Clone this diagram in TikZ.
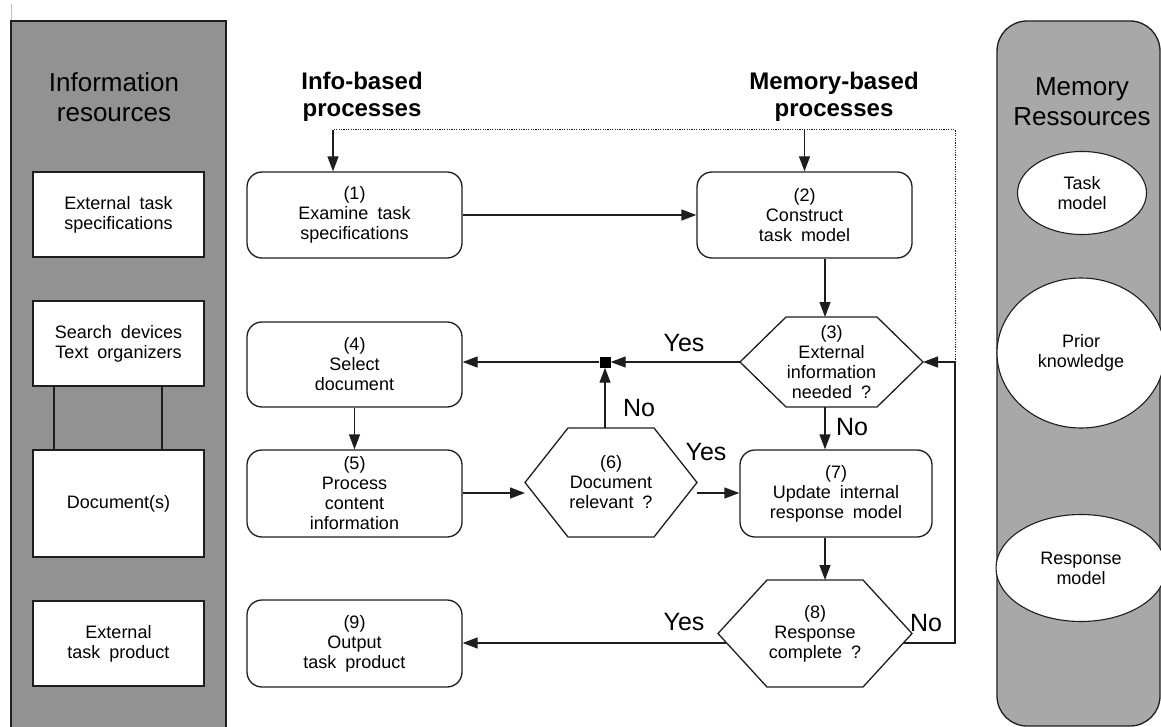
\documentclass[tikz,border=0pt]{standalone}
\usepackage{fontspec}
\setmainfont{Liberation Sans}
\usetikzlibrary{arrows.meta,shapes.geometric,calc}
\newcommand\boxfont{\fontsize{18}{20}\selectfont\spaceskip=0.5em\relax}
\newcommand\lblfont{\fontsize{25}{28}\selectfont}
\newcommand\headfont{\fontsize{24}{27}\selectfont\bfseries}
\newcommand\titlefont{\fontsize{26}{30}\selectfont}
\definecolor{panelA}{RGB}{146,146,146}
\definecolor{panelB}{RGB}{168,168,168}
\definecolor{ink}{RGB}{30,30,30}
\newcommand\hexnode[7]{%
  \node[hexin,minimum width=#4,minimum height=#5] (#1) at (#2,#3) {#7};
  \draw[hexline] (#1.west) -- ([xshift=#6]#1.north west) -- ([xshift=-#6]#1.north east)
    -- (#1.east) -- ([xshift=-#6]#1.south east) -- ([xshift=#6]#1.south west) -- cycle;}
\tikzset{
  proc/.style={draw=ink, line width=1.3pt, rounded corners=15pt, fill=white,
    minimum width=215pt, minimum height=86pt, align=center, font=\boxfont, inner sep=0pt},
  resbox/.style={draw=ink, line width=1.3pt, fill=white, minimum width=171pt,
    align=center, font=\boxfont, inner sep=0pt},
  memell/.style={ellipse, draw=ink, line width=1.1pt, fill=white, align=center,
    font=\boxfont, inner sep=0pt},
  hexin/.style={rectangle, inner sep=0pt, outer sep=0pt, align=center, font=\boxfont},
  hexline/.style={draw=ink, line width=1.3pt},
  arr/.style={draw=ink, line width=1.3pt, -{Triangle[length=15pt,width=11pt]}},
  plainline/.style={draw=ink, line width=1.3pt},
  dotline/.style={draw=ink, line width=1pt, dash pattern=on 1.2pt off 1.2pt},
  lbl/.style={font=\lblfont, inner sep=0pt},
  head/.style={font=\headfont, align=center, inner sep=0pt},
  ptitle/.style={font=\titlefont, align=center, inner sep=0pt}
}
\begin{document}
\begin{tikzpicture}[x=1pt,y=-1pt]
\useasboundingbox (0,0) rectangle (1161,727);
\clip (0,0) rectangle (1161,727);
% left panel
\draw[black!25, line width=0.8pt] (11,4) -- (11,21);
\draw[draw=ink, line width=1.3pt, fill=panelA] (11,21) rectangle (226,745);
\node[ptitle] (ltitle) at (114,97) {Information\\resources};
\node[resbox, minimum height=85pt] (ra) at (118.5,214.5) {External task\\specifications};
\node[resbox, minimum height=85pt] (rb) at (118.5,343.5) {Search devices\\Text organizers};
\node[resbox, minimum height=107pt] (rc) at (118.5,503.5) {Document(s)};
\node[resbox, minimum height=85pt] (rd) at (118.5,643.5) {External\\task product};
\coordinate (l1) at (54,0);
\coordinate (l2) at (162,0);
\draw[plainline] (rb.south -| l1) -- (rc.north -| l1);
\draw[plainline] (rb.south -| l2) -- (rc.north -| l2);
% right panel
\draw[draw=ink, line width=1.3pt, fill=panelB, rounded corners=30pt] (997,21) rectangle (1160,726);
\node[ptitle] (rtitle) at (1082,102) {Memory\\Ressources};
\node[memell, minimum width=129pt, minimum height=83pt] (mtask) at (1082,193) {Task\\model};
\node[memell, minimum width=168pt, minimum height=150pt] (mprior) at (1081,353) {Prior\\knowledge};
\node[memell, minimum width=170pt, minimum height=107pt] (mresp) at (1081,568) {Response\\model};
% headers
\node[head] (hinfo) at (362,97) {Info-based\\processes};
\node[head] (hmem) at (834,97) {Memory-based\\processes};
% process boxes
\node[proc] (b1) at (354.5,215) {(1)\\Examine task\\specifications};
\node[proc] (b2) at (804.5,215) {(2)\\Construct\\task model};
\node[proc, minimum height=85pt] (b4) at (354.5,364.5) {(4)\\Select\\document};
\node[proc, minimum height=87pt] (b5) at (354.5,493.5) {(5)\\Process\\content\\information};
\node[proc, minimum width=192pt, minimum height=87pt] (b7) at (836,493.5) {(7)\\Update internal\\response model};
\node[proc, minimum height=87pt] (b9) at (354.5,643.5) {(9)\\Output\\task product};
\hexnode{h3}{831.5}{362}{183pt}{90pt}{46pt}{(3)\\External\\information\\needed ?}
\hexnode{h6}{611}{482.5}{172pt}{109pt}{43pt}{(6)\\Document\\relevant ?}
\hexnode{h8}{815}{633.5}{194pt}{107pt}{49pt}{(8)\\Response\\complete ?}
\node[fill=black, minimum size=11pt, inner sep=0pt] (sq) at (605,362) {};
% coordinates
\coordinate (dtl) at (333,130);
\coordinate (dtr) at (955,130);
\coordinate (jr) at (955,362);
\coordinate (r8) at (955,643);
\coordinate (col) at (825,0);
\coordinate (r6) at (0,493);
% connectors
\draw[arr] (b1.east) -- (b2.west);
\draw[dotline] (jr) -- (dtr) -- (dtl);
\draw[arr] (dtl) -- (dtl |- b1.north);
\draw[arr] (b2.north |- dtl) -- (b2.north);
\draw[arr] (b2.south -| col) -- (h3.north -| col);
\draw[arr] (h3.south -| col) -- (b7.north -| col);
\draw[arr] (b7.south -| col) -- (h8.north -| col);
\draw[arr] (h3.west) -- (sq.east);
\draw[arr] (sq.west) -- (sq.west -| b4.east);
\draw[arr] (sq |- h6.north) -- (sq.south);
\draw[arr] (b4.south) -- (b5.north);
\draw[arr] (b5.east |- r6) -- (h6.west |- r6);
\draw[arr] (h6.east |- r6) -- (b7.west |- r6);
\draw[plainline] ($(h8.east |- r8)+(-8,0)$) -- (r8) -- (jr);
\draw[arr] (jr) -- (h3.east);
\draw[arr] ($(h8.west |- r8)+(8,0)$) -- (b9.east |- r8);
% labels
\node[lbl] (yes3) at (684,343) {Yes};
\node[lbl] (no3) at (852,427) {No};
\node[lbl] (no6) at (639,408) {No};
\node[lbl] (yes6) at (706,452) {Yes};
\node[lbl] (yes8) at (684,622) {Yes};
\node[lbl] (no8) at (926,623) {No};
\end{tikzpicture}
\end{document}
